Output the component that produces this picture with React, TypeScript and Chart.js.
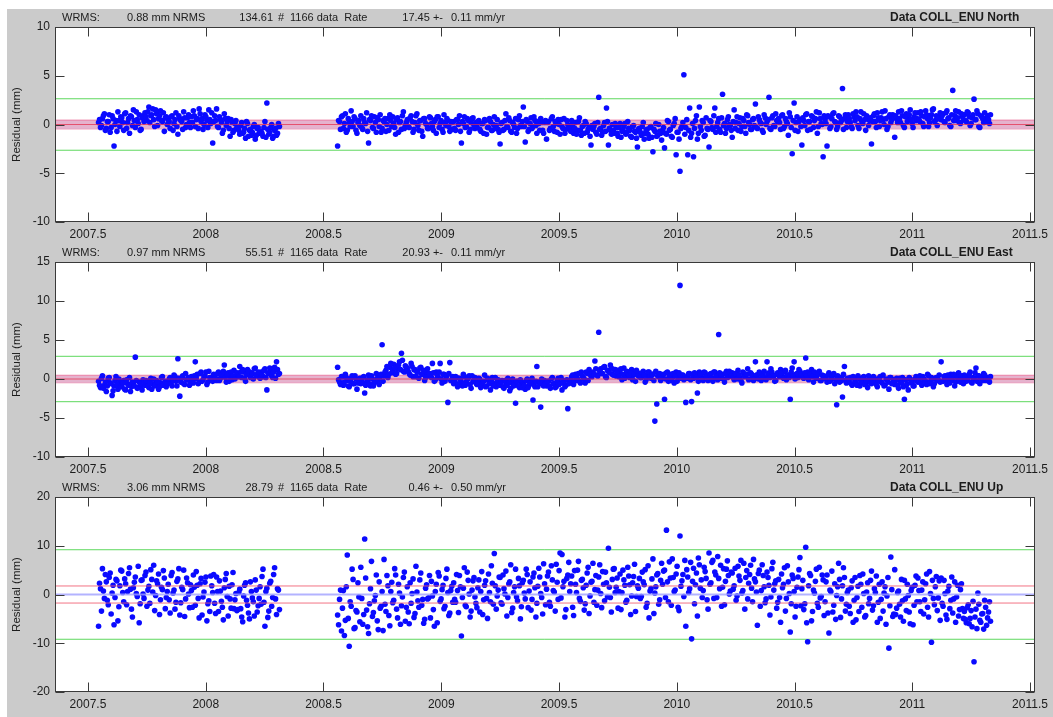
import React, { useEffect, useRef } from "react";
import { Chart, registerables } from "chart.js";

Chart.register(...registerables);

// Epoch axis (decimal years)
const xRange = [2007.36, 2011.52];
const xTickValues = [2007.5, 2008, 2008.5, 2009, 2009.5, 2010, 2010.5, 2011, 2011.5];

// Daily solutions, stored as two interleaved 3-day series per campaign
const sampleStepYr = 3 / 365.25;
const campaignStart = [2007.545, 2008.56];

// North residuals (mm)
const northA = [
  0.2, -0.3, 0.6, 1.1, -0.4, 0.3, -0.8, 0.9, -2.2, 0.4, 1.3, -0.2,
  0.7, -0.6, 1.2, 0.2, -0.9, 0.8, 1.5, -0.3, 0.5, 1.0, -0.5, 0.9,
  1.2, 0.4, 1.8, 0.9, 1.6, -0.2, 1.1, 0.6, 1.4, 0.3, -0.7, 0.8,
  0.5, -0.4, 0.9, 0.1, 1.2, -1.0, 0.6, 0.3, 1.3, -0.3, 0.7, 0.2,
  0.8, 1.4, -0.2, 0.6, 1.6, 0.3, -0.5, 1.0, 0.4, 1.5, 0.1, -1.9,
  0.9, 1.6, -0.3, 0.5, -0.9, 1.1, -0.1, 0.6, -1.2, 0.2, -0.6, 0.4,
  -0.3, -1.0, 0.2, -0.8, -1.4, 0.1, -0.6, -1.1, -0.2, -1.5, -0.4, -0.9,
  -0.7, -1.2, 0.3, 2.2, -1.0, -0.3, -1.4, -0.6, -1.1, 0.1,
];
const northA2 = [
  0.5, -0.1, 0.9, -0.6, 0.3, 1.0, -0.3, 0.6, 0.0, -0.7, 0.4, 0.8,
  0.2, 1.1, -0.4, 0.6, 0.9, -0.1, 0.4, 1.3, 0.1, -0.6, 0.7, 0.3,
  0.8, 1.3, 0.2, 1.0, 0.5, 1.5, -0.1, 0.9, 0.4, 1.2, 0.7, 0.0,
  0.3, 0.8, -0.6, 0.5, -0.2, 0.9, 0.4, -0.5, 0.7, 0.0, 1.0, -0.3,
  0.2, 0.9, 0.5, -0.4, 1.1, 0.6, 0.0, 0.8, -0.3, 0.5, 1.2, 0.3,
  0.4, -0.2, 0.8, 0.2, -0.6, 0.6, 0.3, -0.4, 0.5, -0.8, 0.1, -0.3,
  -0.6, -0.1, -0.9, -0.4, 0.3, -1.2, -0.5, -0.8, 0.0, -1.1, -0.3, -0.7,
  -0.9, -0.3, -1.3, -0.5, -0.8, 0.0, -1.2, -0.4, -0.9, -0.2,
];
const northB = [
  -2.2, 0.3, 0.8, -0.4, 1.1, -0.6, 0.2, 1.4, -0.2, 0.6, -0.9, 0.4,
  0.9, -0.5, 0.2, 1.2, -1.9, 0.4, -0.3, 0.8, -0.8, 0.5, 1.0, -0.4,
  0.3, -0.7, 0.6, 1.0, -0.2, 0.1, -1.0, 0.7, 0.2, -0.5, 1.3, -0.1,
  0.5, -0.3, 0.9, -0.8, 0.2, 1.1, -0.6, 0.4, -1.2, 0.6, 0.0, -0.4,
  0.7, -0.2, 0.3, -0.9, 0.8, 0.1, -0.5, 1.0, -0.1, 0.4, -0.7, 0.2,
  0.3, -0.6, 0.5, 0.9, -1.9, 0.1, -0.3, 0.6, -0.8, 0.2, 0.7, -0.4,
  -0.2, 0.4, -0.7, 0.1, 0.5, -1.0, -0.3, 0.3, -0.6, 0.8, -0.1, -0.5,
  -2.0, 0.2, -0.5, 1.1, -0.3, 0.4, -0.8, 0.0, 0.6, -0.4, 0.9, -0.2,
  1.8, -1.8, 0.3, -0.5, 0.7, -0.2, 0.4, -0.9, 0.1, 0.6, -0.6, 0.2,
  -1.5, 0.3, -0.4, 0.8, -0.7, 0.1, 0.5, -1.0, -0.2, 0.6, -0.5, 0.0,
  -0.4, 0.4, -0.9, 0.2, -0.6, 0.7, -1.1, -0.1, 0.3, -0.8, -0.3, -2.1,
  -0.5, 0.1, -1.0, 2.8, -0.4, -0.8, 0.2, 1.7, -2.1, -0.6, 0.0, -0.9,
  -0.3, -1.2, 0.1, -0.7, -0.2, -1.0, 0.3, -0.6, -1.3, -0.1, -0.8, -2.3,
  -0.4, -1.1, 0.2, -0.9, -0.5, -1.4, -0.2, -2.8, -0.7, -1.2, 0.0, -0.9,
  -0.6, -2.4, -1.0, 0.3, -0.5, -1.3, 0.1, -3.1, -0.8, -4.8, -0.2, 5.1,
  -0.3, -3.1, 1.7, -0.9, -3.3, 0.4, -1.5, 1.8, -0.6, 0.2, -1.1, -0.4,
  -2.3, 0.3, -0.5, 1.7, -0.2, 0.6, -0.8, 3.1, 0.1, -0.4, 0.8, -0.1,
  -1.3, 1.5, 0.2, -0.6, 0.7, -0.2, 0.4, -0.9, 0.9, 0.0, -0.5, 0.6,
  2.1, -0.4, 0.5, 0.1, -0.8, 0.7, 0.3, 2.8, -0.5, 0.9, -0.2, 0.4,
  0.6, -0.5, 1.0, -0.2, 0.3, -1.1, 0.8, -3.0, 2.2, 0.2, -0.7, 0.5,
  -2.1, 0.4, 1.0, -0.6, 0.3, 0.9, -0.3, 0.6, -0.9, 1.2, 0.1, -3.3,
  0.5, -2.2, 0.8, -0.2, 1.1, 0.3, -0.5, 0.9, 0.2, 3.7, 0.6, -0.3,
  1.0, 0.2, -0.4, 0.8, 1.3, -0.1, 0.6, 0.3, 1.1, -0.6, 0.7, 0.4,
  -2.0, 0.9, 0.3, 1.2, -0.2, 0.7, 0.5, 1.4, -0.5, 0.8, 0.2, 1.0,
  -1.3, 0.6, 1.3, 0.2, 0.9, -0.3, 1.1, 0.5, 1.5, 0.1, 0.8, 0.4,
  1.2, 0.3, 0.9, -0.2, 1.4, 0.6, 0.2, 1.0, 1.6, 0.4, -0.1, 0.8,
  0.5, 1.1, 0.2, 1.4, 0.7, -0.2, 3.5, 0.9, 0.4, 1.3, 0.1, 0.8,
  1.0, 0.3, 1.2, -0.1, 0.7, 2.6, 0.5, 1.1, -0.3, 0.8, 0.2, 0.6,
  0.9, 0.1,
];
const northB2 = [
  0.4, -0.5, 0.9, 0.1, -0.8, 0.6, -0.2, 0.3, 0.8, -0.6, 0.2, -0.1,
  -0.3, 0.6, 0.1, -0.7, 0.5, 0.9, -0.4, 0.2, 0.7, -0.2, -0.8, 0.4,
  0.6, 0.0, -0.6, 0.4, 0.8, -0.3, 0.5, -0.8, 0.3, 0.9, -0.4, 0.2,
  -0.2, 0.7, 0.3, -0.5, 0.9, -0.1, 0.4, -0.7, 0.6, 0.1, -0.4, 0.8,
  0.1, -0.6, 0.5, 0.8, -0.3, 0.4, -0.8, 0.2, 0.6, -0.2, 0.3, -0.5,
  -0.4, 0.5, 0.0, -0.7, 0.3, 0.8, -0.2, 0.4, -0.5, 0.6, -0.1, 0.2,
  0.3, -0.5, 0.1, -0.9, 0.4, -0.3, 0.6, -0.6, 0.0, -0.4, 0.5, -0.8,
  0.1, -0.6, 0.4, -0.2, 0.7, -0.7, 0.2, -0.3, -0.9, 0.5, -0.1, 0.3,
  -0.2, 0.5, -0.7, 0.1, -0.4, 0.8, -0.1, 0.3, -0.6, 0.2, -0.9, 0.4,
  0.2, -0.6, 0.6, -0.2, 0.3, -0.8, 0.0, 0.5, -0.4, -0.9, 0.4, -0.3,
  -0.7, 0.0, -0.4, -1.0, 0.3, -0.6, -0.2, -0.9, 0.1, -0.5, -1.2, -0.1,
  -0.2, -0.8, 0.2, -0.5, -1.1, -0.1, -0.7, 0.3, -0.4, -1.0, -0.6, 0.1,
  -0.9, -0.3, -1.3, -0.6, 0.1, -0.8, -0.4, -1.2, -0.2, -0.7, -1.4, -0.5,
  -0.8, -0.2, -1.5, -0.6, -1.0, -0.3, -1.3, -0.5, 0.1, -1.1, -0.7, -1.6,
  -0.3, -0.9, 0.4, -0.6, -1.2, -0.1, 0.6, -0.8, -1.5, -0.4, 0.2, -1.0,
  0.5, -0.6, -1.3, 0.1, -0.4, 0.9, -0.9, -0.2, 0.4, -1.2, 0.7, -0.5,
  0.4, -0.3, 0.9, -0.8, 0.2, -0.5, 0.7, -0.1, -0.9, 0.5, 0.0, -0.6,
  0.3, -0.4, 0.8, 0.1, -0.7, 0.6, -0.2, 1.0, 0.2, -0.5, 0.5, -0.1,
  -0.3, 0.8, 0.2, -0.6, 1.0, 0.0, 0.5, -0.4, 0.7, -0.1, 1.1, 0.3,
  0.2, 0.9, -0.4, 0.6, 0.1, 1.2, -0.3, 0.4, -0.6, 0.8, 0.3, -0.2,
  0.7, -0.1, 1.1, 0.3, -0.5, 0.8, 0.4, 1.3, -0.2, 0.6, 0.0, 0.9,
  0.1, 0.9, -0.4, 0.6, 1.2, 0.2, -0.2, 0.8, 0.4, -0.5, 1.0, 0.3,
  0.6, -0.2, 1.1, 0.4, 0.8, -0.4, 1.3, 0.1, 0.5, 0.9, -0.1, 0.7,
  0.3, 1.1, -0.3, 0.7, 0.4, 1.3, 0.0, 0.6, -0.2, 1.0, 0.5, 0.8,
  0.9, 0.2, 0.6, 1.4, -0.1, 0.8, 0.3, 1.0, 0.5, -0.3, 1.2, 0.6,
  0.5, 1.3, 0.1, 0.8, 1.0, -0.2, 0.7, 1.5, 0.3, 0.9, 0.6, 1.2,
  0.9, 0.3, 1.2, 0.6, -0.1, 1.0, 0.4, 1.4, 0.7, 0.2, 1.1, 0.5,
  0.4, 1.3, 0.8, 0.1, 1.0, 0.5, 1.4, -0.2, 0.9, 0.6, 1.2, 0.3,
  0.5, 1.0,
];

// East residuals (mm)
const eastA = [
  -0.3, -1.1, 0.4, -0.8, -1.6, 0.1, -0.5, -2.1, -0.9, 0.3, -1.3, -0.4,
  -0.9, -0.2, -1.4, -0.6, 0.2, -1.0, -0.7, 2.8, -1.2, -0.4, -0.9, -0.1,
  -0.8, -0.3, -1.1, 0.1, -0.6, -0.9, -0.2, -1.3, -0.5, 0.3, -0.7, -1.0,
  -0.4, 0.2, -0.9, 0.5, -0.3, 2.6, -2.2, 0.1, -0.6, 0.7, -0.1, -0.8,
  0.3, -0.5, 2.2, 0.6, -0.4, 0.9, -0.1, 0.4, -0.7, 1.0, 0.2, -0.3,
  0.5, -0.2, 0.9, 0.1, 0.6, 1.8, -0.4, 0.8, 0.3, -0.1, 1.1, 0.4,
  0.7, 1.6, 0.2, 0.9, -0.3, 1.2, 0.5, 0.8, 0.0, 1.4, 0.6, 0.3,
  0.9, 0.3, 1.3, -1.4, 0.7, 1.1, 0.2, 1.5, 2.2, 0.6,
];
const eastA2 = [
  -0.8, 0.1, -1.2, -0.4, -0.9, 0.2, -0.6, -1.5, -0.2, -0.7, 0.0, -1.0,
  -0.5, -1.3, -0.1, -0.8, -1.6, -0.4, -0.9, -0.2, -1.1, -0.6, -1.4, -0.3,
  -0.2, -0.9, -0.5, -1.3, 0.0, -0.7, -0.4, -1.0, 0.2, -0.8, -0.3, -0.6,
  0.0, -0.6, -0.2, 0.3, -0.9, 0.1, -0.4, 0.4, -0.7, -0.1, 0.2, -0.5,
  -0.2, 0.4, 0.1, -0.6, 0.7, -0.3, 0.3, 0.9, -0.4, 0.2, -0.1, 0.6,
  0.1, 0.7, -0.2, 0.5, 1.0, 0.2, 0.6, -0.3, 0.9, 0.4, 0.0, 0.8,
  0.3, 0.9, 1.2, 0.1, 0.6, 1.0, 0.2, 0.7, 1.3, 0.4, 0.9, 0.1,
  0.5, 1.1, 0.2, 0.8, 1.4, 0.4, 0.9, 0.1, 1.2, 0.7,
];
const eastB = [
  1.5, -0.4, 0.3, -0.8, 0.6, -0.2, -1.0, 0.1, -0.6, 0.4, -1.3, -0.3,
  -0.6, 0.2, -1.8, -0.4, 0.5, -0.9, 0.0, -0.5, 0.7, -0.2, 0.3, 4.4,
  0.4, 1.1, 0.2, 1.5, 0.8, 1.9, 0.6, 1.3, 2.2, 3.3, 1.0, 1.7,
  1.4, 0.7, 2.0, 0.3, 1.2, 0.9, 0.1, 1.5, 0.6, -0.2, 0.8, 0.4,
  0.5, 2.0, -0.3, 0.9, 0.2, 2.0, -0.5, 0.6, 0.1, -3.0, 2.1, -0.2,
  -0.6, 0.3, -1.0, 0.1, -0.4, 0.6, -0.8, -0.1, 0.4, -1.2, -0.3, 0.2,
  -0.7, 0.1, -1.1, -0.4, 0.5, -0.9, -0.2, -1.4, 0.2, -0.6, -1.0, -0.1,
  -0.8, -0.2, -1.2, -0.5, 0.1, -1.5, -0.4, -0.9, -3.1, -0.3, -1.1, -0.6,
  -0.5, -1.3, 0.0, -0.8, -0.3, -2.7, -1.0, 1.6, -0.4, -3.6, -0.7, -0.2,
  -0.9, -0.3, -1.2, 0.2, -0.6, -1.0, 0.1, -0.5, -1.4, -0.2, -0.8, -3.8,
  -0.4, 0.3, -0.7, 0.6, 0.0, -0.3, 0.9, 0.2, -0.5, 0.7, 1.2, 0.4,
  0.9, 2.3, 0.5, 6.0, 1.3, 0.7, 1.6, 0.2, 1.0, 1.8, 0.6, 1.2,
  0.4, 1.1, 0.8, -0.1, 1.4, 0.6, 0.9, 0.2, 1.2, 0.5, -0.3, 0.8,
  0.7, 0.2, 1.0, -0.4, 0.5, 0.9, 0.1, 0.6, -5.4, -3.2, 0.3, -0.2,
  0.4, -2.6, 0.8, -0.3, 0.6, 0.1, -0.5, 0.9, 0.2, 12.0, 0.5, -0.1,
  -3.0, 0.4, 0.7, -2.9, 0.1, 0.6, -1.8, 0.9, 0.3, -0.2, 0.8, 0.4,
  0.2, 0.7, -0.3, 0.9, 0.4, 5.7, 0.1, 0.6, -0.4, 1.0, 0.3, 0.5,
  0.8, -0.1, 0.5, 1.1, 0.2, -0.5, 0.7, 0.4, 1.3, 0.0, 0.6, -0.2,
  2.2, 0.5, 0.9, -0.2, 0.4, 0.1, 2.2, 0.8, 1.3, 0.3, -0.3, 0.6,
  0.7, 1.2, 0.3, 0.9, -0.1, 0.5, -2.6, 1.4, 2.2, 0.6, 0.2, 1.0,
  0.6, 0.1, 2.7, 0.9, 0.3, 1.2, -0.4, 0.7, 0.5, 1.0, -0.2, 0.4,
  0.3, -0.4, 0.8, -0.1, 0.5, -0.6, -3.3, 0.2, -0.3, -2.3, 1.6, -0.5,
  -0.4, 0.2, -0.8, 0.1, -0.5, 0.4, -0.9, -0.2, 0.3, -0.6, -1.1, 0.0,
  -0.6, 0.3, -0.2, -1.0, 0.1, -0.4, 0.5, -0.8, -0.1, -1.3, 0.2, -0.5,
  -0.7, 0.1, -1.2, -0.3, 0.2, -2.6, -0.8, -1.4, 0.0, -0.5, -0.9, 0.3,
  -0.4, 0.4, -0.8, 0.0, -0.3, 0.6, -0.6, 0.2, -1.0, 0.1, -0.2, 0.5,
  2.2, -0.3, 0.4, -0.7, 0.1, 0.6, -0.2, -0.9, 0.3, 0.8, -0.4, 0.0,
  0.5, -0.3, 0.2, 0.9, -0.5, 0.1, 1.4, 0.4, -0.6, 0.3, 0.7, -0.2,
  0.2, -0.4,
];
const eastB2 = [
  -0.1, -0.7, 0.3, -0.4, 0.2, -0.9, -0.3, 0.4, -0.6, 0.0, -0.5, 0.1,
  -0.4, 0.3, -0.8, -0.1, -0.6, 0.4, -0.9, -0.2, 0.1, -0.7, 0.6, -0.3,
  0.9, 1.6, 0.6, 2.0, 1.1, 1.4, 0.7, 1.8, 1.2, 2.4, 0.9, 1.5,
  1.0, 0.5, 1.6, 1.2, 0.3, 0.9, 1.4, 0.6, 1.1, 0.2, 1.3, 0.7,
  0.2, 0.8, -0.1, 0.5, 0.9, 0.0, 0.6, -0.3, 0.4, 0.7, -0.2, 0.3,
  -0.3, 0.2, -0.6, 0.0, -0.9, 0.3, -0.4, 0.1, -0.7, 0.4, -0.2, -0.5,
  -0.5, 0.0, -0.8, -0.3, -1.0, 0.1, -0.6, -0.2, -0.9, 0.2, -0.4, -0.7,
  -0.4, -1.0, -0.2, -0.8, -0.5, -1.2, 0.0, -0.7, -0.3, -0.9, -0.1, -1.1,
  -0.8, -0.2, -1.1, -0.5, 0.1, -0.7, -0.3, -1.0, -0.4, 0.0, -0.9, -0.6,
  -0.3, -0.9, 0.0, -0.6, -1.1, -0.2, -0.7, 0.2, -0.5, -1.0, -0.1, -0.6,
  -0.1, 0.5, -0.3, 0.2, 0.7, -0.5, 0.4, 0.0, 0.9, -0.2, 0.6, 0.3,
  0.6, 1.3, 0.4, 1.0, 0.7, 1.5, 0.3, 1.1, 0.8, 1.4, 0.5, 1.2,
  0.9, 0.3, 1.3, 0.6, 0.1, 1.0, 0.5, 0.8, -0.1, 0.7, 1.1, 0.4,
  0.2, 0.8, 0.5, -0.1, 0.9, 0.3, 0.6, -0.2, 1.0, 0.4, 0.7, 0.1,
  0.6, 0.0, 0.9, 0.3, -0.2, 0.7, 0.4, -0.3, 0.8, 0.1, 0.5, 0.2,
  0.1, 0.7, -0.1, 0.5, 0.8, 0.2, -0.3, 0.6, 0.0, 0.9, 0.3, -0.2,
  0.6, 0.1, 0.9, 0.3, -0.1, 0.8, 0.5, 0.0, 0.7, 0.2, 1.0, 0.4,
  0.2, 0.7, 0.0, 0.5, -0.2, 0.9, 0.3, 0.6, -0.1, 0.8, 0.4, 0.1,
  0.5, 0.0, 0.7, 0.3, 1.0, -0.1, 0.6, 0.2, 0.9, 0.4, -0.2, 0.8,
  0.3, 0.8, 0.1, 1.1, 0.5, 0.2, 0.9, 0.4, 0.0, 0.7, 1.2, 0.6,
  0.2, 0.8, 0.4, -0.1, 0.6, 0.3, 0.9, 0.1, 0.7, -0.2, 0.5, 0.3,
  0.0, 0.5, -0.3, 0.3, 0.7, -0.1, 0.4, -0.4, 0.2, 0.6, -0.2, 0.1,
  -0.1, -0.6, 0.3, -0.3, -0.8, 0.1, -0.4, 0.2, -0.7, -0.2, 0.4, -0.5,
  -0.3, 0.1, -0.7, -0.2, 0.3, -0.5, -0.9, 0.0, -0.4, 0.2, -0.6, -0.1,
  -0.2, -0.8, 0.1, -0.5, -1.0, -0.1, -0.6, 0.2, -0.4, -0.9, 0.0, -0.3,
  0.1, -0.5, 0.3, -0.2, -0.7, 0.4, -0.3, 0.0, -0.6, 0.2, -0.1, -0.4,
  -0.3, 0.3, -0.1, 0.5, -0.5, 0.1, 0.6, -0.4, 0.2, -0.2, 0.4, -0.6,
  0.3, -0.1, 0.6, -0.4, 0.2, 0.8, -0.3, 0.4, 0.1, -0.2, 0.5, 0.0,
  -0.1, 0.3,
];

// Up residuals (mm)
const upA = [
  -6.5, 1.2, 5.3, -0.8, 2.6, -2.1, 4.4, 0.3, -6.2, 3.1, -5.4, 1.8,
  4.8, -1.5, 2.2, 0.6, 5.5, -3.0, 1.4, 3.6, -0.4, -5.8, 2.9, 0.1,
  3.9, -2.4, 1.7, 5.1, 0.5, -3.3, 2.8, 4.2, -1.1, 1.0, 3.4, -0.6,
  2.1, -3.8, 4.5, 0.9, -1.6, 3.2, -4.2, 1.5, 5.0, -0.9, 2.4, -2.7,
  0.8, 4.0, -2.2, 1.9, -4.8, 3.3, -0.5, 2.5, -5.4, -1.3, 3.8, 0.4,
  -1.8, 3.6, -3.5, 0.7, -2.6, 1.4, 4.3, -4.4, -0.9, 2.0, -2.9, 0.2,
  -3.1, 1.1, -4.6, -0.3, 2.4, -2.2, -5.0, 0.6, -1.5, 3.0, -3.6, -0.8,
  -2.0, 5.2, -6.5, 1.3, -3.4, 2.7, -0.6, 5.5, -4.1, 0.9,
];
const upA2 = [
  2.3, -3.4, 0.7, 4.1, -1.2, 3.5, -4.0, 1.9, -0.6, 2.8, -2.5, 5.0,
  0.4, 3.2, -2.1, 4.3, 1.1, -4.6, 2.5, 0.2, 5.8, -1.9, 3.0, -0.8,
  4.6, 0.9, -1.8, 3.1, 6.0, -0.2, 2.2, -4.1, 1.5, 4.9, -2.9, 0.6,
  -1.1, 3.9, 0.3, -3.0, 2.7, 5.3, -1.7, 1.0, -4.5, 3.4, 0.1, 2.0,
  -2.6, 1.5, 4.7, -0.8, 2.2, -4.2, 0.5, 3.6, -1.9, -3.5, 1.8, 4.1,
  -3.9, 0.6, 2.8, -1.4, -5.2, 3.1, -0.4, 1.7, -2.8, 4.5, -1.1, -3.3,
  0.4, -2.9, -5.6, 1.9, -1.2, -3.8, 2.6, -0.7, -4.4, 0.9, -2.3, 1.6,
  3.7, -1.6, 0.6, -4.7, 2.3, -2.4, 4.1, -0.9, 1.2, -3.1,
];
const upB = [
  -4.2, -1.0, -7.5, 0.8, -5.3, 8.1, -10.6, -2.4, 3.1, -6.8, -3.6, -0.5,
  5.6, -6.1, 11.4, -3.2, -8.0, 1.2, -4.5, -1.3, 4.0, -7.2, -2.8, 0.6,
  7.2, -3.5, 1.8, -6.4, 2.5, -1.2, 4.0, -4.8, 0.3, -2.3, 3.5, -5.5,
  1.6, -6.0, -1.8, 3.2, -3.9, 0.5, -2.6, 4.4, -1.0, -5.1, 2.0, -0.7,
  -4.8, -0.3, -6.5, 2.1, 4.5, -1.4, 1.0, -2.9, 3.3, 0.4, -3.8, 1.7,
  2.4, -1.6, 0.8, 3.9, -8.5, 1.3, -2.2, 4.6, 0.1, -3.4, 2.8, -0.5,
  -2.7, 3.0, 0.6, -4.1, 1.9, -0.8, 4.2, -1.5, 2.3, 8.4, -3.0, 0.9,
  3.5, -2.0, 1.2, 4.8, -0.6, 2.6, -3.7, 0.4, 5.2, -1.3, 1.8, -2.5,
  2.9, -0.9, 4.1, 0.7, -3.2, 3.6, 1.4, -1.8, 5.4, 0.2, -4.0, 2.2,
  1.1, 4.6, -2.4, 3.0, 0.5, 6.2, -1.0, 8.5, 8.2, 2.7, -3.1, 4.0,
  0.6, 3.8, -4.3, 2.1, 5.0, -0.8, 2.9, 1.4, -1.9, 4.4, -3.9, 2.5,
  6.4, 1.0, -2.2, 3.6, 0.2, 4.7, -1.3, 2.4, 9.5, -0.6, 3.1, 5.3,
  1.5, -2.8, 4.2, 0.4, 3.0, -1.6, 5.6, 2.0, -0.3, 3.7, -3.5, 1.8,
  3.3, -0.4, 2.6, 5.1, -1.8, -4.8, 1.2, 7.3, 0.3, 4.0, -2.0, 2.9,
  2.1, 5.0, 13.2, -1.5, 3.4, 7.3, 0.6, 4.2, -2.6, 12.0, 2.8, -0.4,
  -6.5, 3.6, 1.2, -9.1, 5.4, 2.0, -4.4, 6.1, 3.0, 0.8, 4.7, -1.1,
  8.5, 2.4, 7.0, 4.6, -0.6, 3.3, 6.0, 1.5, -2.1, 5.2, 3.9, 0.7,
  4.4, 1.8, -1.2, 5.8, 2.9, 0.3, 6.4, 3.5, -0.9, 4.1, 1.3, 7.2,
  2.6, -6.3, 5.0, 0.8, 3.9, -1.7, 4.6, 1.9, -0.5, 6.6, 2.2, -2.8,
  3.1, -5.7, 1.4, 5.5, -0.8, 2.6, -7.7, 4.0, 0.6, -2.4, 3.6, 7.6,
  1.2, -3.1, 9.7, -9.7, 4.3, -5.4, 0.9, 2.7, -1.8, 5.6, -0.4, 3.0,
  -1.5, 4.0, -7.9, 0.6, -3.6, 2.2, -0.2, 6.4, -4.7, 1.8, 3.5, -2.0,
  0.9, -3.9, 2.8, -1.2, -5.2, 1.7, 3.9, -2.6, 0.2, -4.3, 2.4, -0.8,
  4.8, -2.3, 0.4, -5.7, 2.1, -1.0, -3.4, 1.6, -0.3, -11.0, 7.7, -4.5,
  5.1, -2.8, 0.7, -4.6, -1.3, 2.9, -3.3, -0.2, -6.0, 1.5, -2.2, 3.8,
  3.4, -1.5, 0.9, -4.0, 2.2, -2.6, 4.7, -9.8, -0.8, 1.6, -3.3, 2.8,
  3.4, -2.4, 0.2, -5.1, 1.7, -1.2, -3.8, 2.6, -0.5, -4.4, 1.0, -2.9,
  -3.5, -5.8, -2.1, -4.9, -6.6, -13.8, -3.0, 0.3, -5.3, -4.0, -7.1, -2.6,
  -4.8, -1.5,
];
const upB2 = [
  -6.2, 0.9, -2.8, -8.4, 1.6, -4.9, -1.5, 5.2, -7.0, -3.3, 2.4, -5.6,
  -0.8, -4.1, 3.4, -6.6, -1.9, 6.8, -3.7, -0.2, -5.4, 2.6, -2.4, -7.4,
  -2.0, 3.9, -4.3, 0.6, -1.7, 5.3, -3.0, 2.1, -6.1, -0.5, 4.6, -2.6,
  -3.6, 2.4, 0.2, -4.7, 5.8, -1.3, 3.0, -2.2, -5.9, 1.3, -0.9, 3.9,
  2.7, -3.1, 0.6, -5.8, 3.8, -0.9, 1.9, -2.4, 5.2, -4.3, 0.8, -1.6,
  -1.0, 4.1, -3.7, 1.6, -0.6, 5.5, -2.5, 2.9, -4.6, 0.9, 3.5, -1.8,
  1.4, -3.6, 4.7, -1.1, 2.8, -4.9, 0.4, 5.9, -2.0, 1.8, -0.3, 3.6,
  -1.7, 4.0, 0.1, -4.4, 2.2, 6.1, -2.8, 1.6, -0.5, 3.3, -5.0, 2.4,
  0.3, 5.2, -2.7, 2.6, -1.0, 4.4, -4.6, 1.7, 3.6, -0.6, 6.3, -2.1,
  3.8, -1.6, 5.9, 0.8, -3.4, 2.5, 4.9, -0.7, 1.6, -4.6, 3.3, 6.6,
  2.2, -2.6, 4.9, 0.4, 6.8, -1.4, 3.1, -3.2, 1.9, 5.6, -0.3, 2.7,
  -1.6, 3.9, 0.9, 6.1, -2.7, 2.1, 4.6, -0.5, 1.5, -3.6, 5.2, 0.4,
  3.4, 0.6, -3.1, 5.0, 1.9, -1.2, 3.8, -4.1, 2.4, 6.2, -0.4, 1.3,
  -0.8, 4.6, 2.0, -2.6, 5.9, 0.7, 3.2, -3.9, 1.6, 4.3, -1.1, 6.4,
  4.8, -0.6, 2.6, 6.7, -2.2, 3.5, 0.9, 5.8, -3.3, 1.7, 4.1, 7.0,
  5.1, 0.4, 6.6, 2.7, -1.9, 4.4, 7.5, 1.3, -0.6, 5.6, 3.3, -3.0,
  2.1, 6.6, -0.8, 4.0, 7.8, 1.2, -2.4, 5.3, 2.7, 6.9, 0.1, 4.6,
  1.1, 5.4, -0.3, 3.8, 7.0, 0.8, -3.0, 4.9, 2.3, 6.0, -1.5, 3.2,
  0.5, 4.3, -2.4, 6.1, 1.6, -0.9, 3.5, -4.2, 5.3, 0.9, 2.8, -1.6,
  -0.6, 4.2, 2.1, -3.4, 5.9, 0.2, -1.9, 3.3, -4.6, 1.5, 5.1, -2.3,
  2.9, -1.9, -5.8, 1.8, 3.9, -3.5, 0.3, 5.2, -2.6, -0.7, 4.0, -4.3,
  2.6, -3.8, 0.9, 4.8, -2.2, -5.1, 1.6, 3.1, -0.9, 5.5, -3.4, 0.4,
  -2.4, 1.4, -5.7, 3.5, -0.6, -3.5, 2.1, 4.2, -4.6, 0.5, -1.9, 2.9,
  -3.2, 1.2, 3.8, -1.6, -4.9, 2.6, 0.3, -6.1, 3.5, -2.3, 1.0, -4.0,
  -4.1, 0.4, -2.0, 3.1, -5.5, -0.9, 2.1, -3.6, 0.8, -6.2, 1.9, -1.5,
  0.8, -3.5, 2.6, -1.1, 4.2, -4.6, 0.2, 2.9, -2.1, 3.7, -0.7, -5.3,
  -1.8, 2.9, -4.2, 0.7, -2.9, 3.6, -0.9, -5.7, 1.9, -3.1, 2.2, -4.9,
  -5.1, -2.7, -6.0, -3.3, -1.4, -4.6, -7.0, -2.0, -5.7, -3.9, -1.2, -6.3,
  -3.6, -5.5,
];

// Per-component statistics
const componentName = ["North", "East", "Up"];
const wrmsMm = [0.88, 0.97, 3.06];
const nrmsValue = [134.61, 55.51, 28.79];
const dataCount = [1166, 1165, 1165];
const rateMmYr = [17.45, 20.93, 0.46];
const rateSigmaMmYr = [0.11, 0.11, 0.5];
const fitBandMm = [0.45, 0.48, 1.75];
const yRanges = [
  [-10, 10],
  [-10, 15],
  [-20, 20],
];
const yTickSets = [
  [-10, -5, 0, 5, 10],
  [-10, -5, 0, 5, 10, 15],
  [-20, -10, 0, 10, 20],
];
// [campaign 1, campaign 2] for the on-step and half-step series
const residualSets = [
  [[northA, northB], [northA2, northB2]],
  [[eastA, eastB], [eastA2, eastB2]],
  [[upA, upB], [upA2, upB2]],
];

const FONT = "'Liberation Sans', Arial, Helvetica, sans-serif";
const TEXT = "#1c1c1c";

function toPoints(series: number[][][]) {
  const pts: { x: number; y: number }[] = [];
  series.forEach((campaigns, half) => {
    campaigns.forEach((seg, s) => {
      seg.forEach((v, i) =>
        pts.push({ x: campaignStart[s] + (i + half * 0.5) * sampleStepYr, y: v })
      );
    });
  });
  return pts;
}

function hLine(y: number) {
  return [
    { x: xRange[0], y },
    { x: xRange[1], y },
  ];
}

// Axes box, inward ticks on all four sides and the header texts
const framePlugin = {
  id: "frame",
  beforeDraw(chart: any) {
    const { ctx, chartArea: a } = chart;
    ctx.save();
    ctx.fillStyle = "#ffffff";
    ctx.fillRect(a.left, a.top, a.right - a.left, a.bottom - a.top);
    ctx.restore();
  },
  afterDraw(chart: any, _args: any, opts: any) {
    const { ctx, chartArea: a, scales } = chart;
    const k = opts.index as number;
    const L = Math.round(a.left) + 0.5;
    const R = Math.round(a.right) - 0.5;
    const T = Math.round(a.top) + 0.5;
    const B = Math.round(a.bottom) - 0.5;
    const tick = 9;
    ctx.save();
    ctx.strokeStyle = "#3a3a3a";
    ctx.lineWidth = 1;
    ctx.beginPath();
    xTickValues.forEach((v) => {
      const px = Math.round(scales.x.getPixelForValue(v)) + 0.5;
      ctx.moveTo(px, B);
      ctx.lineTo(px, B - tick);
      ctx.moveTo(px, T);
      ctx.lineTo(px, T + tick);
    });
    yTickSets[k].forEach((v) => {
      const py = Math.round(scales.y.getPixelForValue(v)) + 0.5;
      ctx.moveTo(L, py);
      ctx.lineTo(L + tick, py);
      ctx.moveTo(R, py);
      ctx.lineTo(R - tick, py);
    });
    ctx.stroke();
    ctx.strokeRect(L, T, R - L, B - T);

    // header line
    const y = a.top - 9;
    const x0 = a.left;
    ctx.fillStyle = TEXT;
    ctx.textBaseline = "middle";
    ctx.font = `11px ${FONT}`;
    const put = (s: string, x: number, align: CanvasTextAlign) => {
      ctx.textAlign = align;
      ctx.fillText(s, x0 + x, y);
    };
    put("WRMS:", 7, "left");
    put(`${wrmsMm[k].toFixed(2)} mm NRMS`, 72, "left");
    put(nrmsValue[k].toFixed(2), 218, "right");
    put("#", 223, "left");
    put(`${dataCount[k]} data  Rate`, 235, "left");
    put(`${rateMmYr[k].toFixed(2)} +-`, 388, "right");
    put(`${rateSigmaMmYr[k].toFixed(2)} mm/yr`, 396, "left");
    ctx.font = `bold 12px ${FONT}`;
    put(`Data COLL_ENU ${componentName[k]}`, 835, "left");
    ctx.restore();
  },
};

function Panel({ index }: { index: number }) {
  const ref = useRef<HTMLCanvasElement | null>(null);

  useEffect(() => {
    if (!ref.current) return;
    const k = index;
    const band = fitBandMm[k];
    const limit = 3 * wrmsMm[k];
    const isUp = k === 2;

    const lineDs = (data: any, color: string, width: number, extra: any = {}) => ({
      data,
      borderColor: color,
      borderWidth: width,
      pointRadius: 0,
      showLine: true,
      fill: false,
      ...extra,
    });

    const datasets: any[] = [];
    // fit lines (drawn above the residuals)
    if (isUp) {
      datasets.push(lineDs(hLine(band), "rgba(240,90,110,0.85)", 1));
      datasets.push(lineDs(hLine(-band), "rgba(240,90,110,0.85)", 1));
      datasets.push(lineDs(hLine(0), "rgba(160,160,255,0.8)", 2));
    } else {
      datasets.push(lineDs(hLine(0), "rgba(230,40,70,0.7)", 1));
    }
    // residuals
    datasets.push({
      data: toPoints(residualSets[k]),
      showLine: false,
      pointRadius: 2.8,
      pointStyle: "circle",
      pointBackgroundColor: "#0a0aff",
      pointBorderWidth: 0,
      borderWidth: 0,
    });
    // fit band
    if (!isUp) {
      datasets.push(
        lineDs(hLine(band), "rgba(235,120,160,0.9)", 1, {
          fill: "+1",
          backgroundColor: "rgba(226,170,200,0.9)",
        })
      );
      datasets.push(lineDs(hLine(-band), "rgba(235,120,160,0.9)", 1));
    }
    // 3-sigma limits
    datasets.push(lineDs(hLine(limit), "#5ed85e", 1));
    datasets.push(lineDs(hLine(-limit), "#5ed85e", 1));

    const chart = new Chart(ref.current, {
      type: "line",
      data: { datasets },
      plugins: [framePlugin],
      options: {
        animation: false,
        responsive: false,
        events: [],
        layout: { padding: { top: 18, right: 17, left: 0, bottom: 0 } },
        plugins: {
          legend: { display: false },
          tooltip: { enabled: false },
          frame: { index: k },
        } as any,
        scales: {
          x: {
            type: "linear",
            min: xRange[0],
            max: xRange[1],
            afterBuildTicks: (s: any) => {
              s.ticks = xTickValues.map((v) => ({ value: v }));
            },
            afterFit: (s: any) => {
              s.height = 22;
            },
            grid: { display: false, drawTicks: false },
            border: { display: false },
            ticks: {
              autoSkip: false,
              maxRotation: 0,
              padding: 5,
              color: TEXT,
              font: { family: FONT, size: 12 },
              callback: (v: any) => String(v),
            },
          },
          y: {
            type: "linear",
            min: yRanges[k][0],
            max: yRanges[k][1],
            afterBuildTicks: (s: any) => {
              s.ticks = yTickSets[k].map((v) => ({ value: v }));
            },
            afterFit: (s: any) => {
              s.width = 48;
            },
            grid: { display: false, drawTicks: false },
            border: { display: false },
            ticks: {
              padding: 5,
              color: TEXT,
              font: { family: FONT, size: 12 },
              callback: (v: any) => String(v),
            },
            title: {
              display: true,
              text: "Residual (mm)",
              color: TEXT,
              font: { family: FONT, size: 11.5 },
              padding: { top: 3, bottom: 0 },
            },
          },
        },
      } as any,
    });
    return () => chart.destroy();
  }, [index]);

  return (
    <canvas
      ref={ref}
      width={1046}
      height={235}
      style={{ display: "block", position: "absolute", left: 0, top: index * 235 }}
    />
  );
}

export default function App() {
  return (
    <div
      style={{
        position: "fixed",
        left: 7,
        top: 9,
        width: 1046,
        height: 708,
        background: "#cbcbcb",
        overflow: "hidden",
      }}
    >
      {[0, 1, 2].map((i) => (
        <Panel key={i} index={i} />
      ))}
    </div>
  );
}
